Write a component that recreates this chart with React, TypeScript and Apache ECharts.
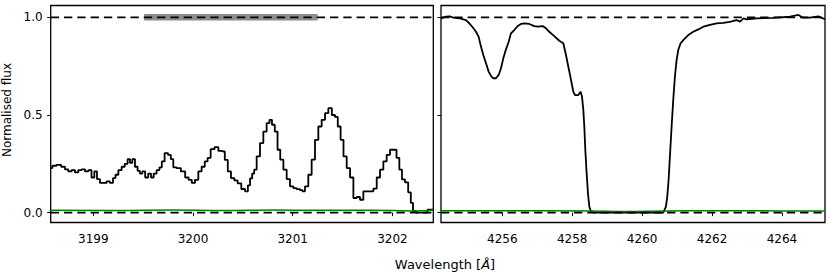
import React, { useEffect, useRef } from 'react';
import * as echarts from 'echarts';

// ---- data ----
const leftWave = [3198.573, 3198.606, 3198.656, 3198.699, 3198.733, 3198.766, 3198.799, 3198.833, 3198.867, 3198.9,
  3198.934, 3198.967, 3198.997, 3199.024, 3199.05, 3199.084, 3199.117, 3199.15, 3199.185, 3199.211,
  3199.235, 3199.268, 3199.301, 3199.331, 3199.358, 3199.378, 3199.405, 3199.431, 3199.458, 3199.478,
  3199.505, 3199.536, 3199.566, 3199.592, 3199.619, 3199.652, 3199.676, 3199.699, 3199.732, 3199.766,
  3199.789, 3199.816, 3199.853, 3199.903, 3199.94, 3199.973, 3200.003, 3200.037, 3200.07, 3200.103,
  3200.133, 3200.16, 3200.194, 3200.238, 3200.271, 3200.304, 3200.334, 3200.364, 3200.398, 3200.431,
  3200.464, 3200.505, 3200.539, 3200.562, 3200.582, 3200.605, 3200.622, 3200.655, 3200.689, 3200.722,
  3200.755, 3200.779, 3200.805, 3200.836, 3200.86, 3200.89, 3200.923, 3200.956, 3200.99, 3201.023,
  3201.056, 3201.09, 3201.106, 3201.14, 3201.173, 3201.207, 3201.24, 3201.274, 3201.307, 3201.341,
  3201.374, 3201.411, 3201.437, 3201.467, 3201.494, 3201.525, 3201.558, 3201.592, 3201.625, 3201.658,
  3201.692, 3201.725, 3201.758, 3201.792, 3201.826, 3201.859, 3201.892, 3201.926, 3201.959, 3201.993,
  3202.026, 3202.056, 3202.083, 3202.109, 3202.143, 3202.173, 3202.196, 3202.217, 3202.26, 3202.327,
  3202.377, 3202.41];
const leftFlux = [0.228, 0.24, 0.245, 0.235, 0.222, 0.211, 0.218, 0.206, 0.218, 0.222,
  0.211, 0.218, 0.18, 0.211, 0.172, 0.152, 0.152, 0.16, 0.152, 0.177,
  0.194, 0.218, 0.235, 0.25, 0.274, 0.255, 0.274, 0.235, 0.214, 0.2,
  0.211, 0.18, 0.2, 0.18, 0.2, 0.218, 0.232, 0.262, 0.305, 0.296,
  0.274, 0.232, 0.228, 0.211, 0.18, 0.168, 0.152, 0.168, 0.211, 0.235,
  0.262, 0.28, 0.325, 0.335, 0.316, 0.313, 0.27, 0.211, 0.177, 0.165,
  0.15, 0.121, 0.109, 0.14, 0.175, 0.2, 0.22, 0.288, 0.356, 0.415,
  0.458, 0.475, 0.45, 0.415, 0.322, 0.271, 0.22, 0.172, 0.134, 0.125,
  0.12, 0.115, 0.109, 0.134, 0.194, 0.271, 0.373, 0.441, 0.475, 0.509,
  0.535, 0.5, 0.49, 0.441, 0.373, 0.288, 0.228, 0.18, 0.075, 0.08,
  0.066, 0.109, 0.109, 0.109, 0.123, 0.18, 0.22, 0.262, 0.296, 0.322,
  0.322, 0.28, 0.22, 0.17, 0.155, 0.104, 0.05, 0.007, 0.0, 0.0,
  0.015, 0.015];

const rightWave = [4254.25, 4254.39, 4254.504, 4254.598, 4254.79, 4254.962, 4255.056, 4255.153, 4255.248, 4255.325,
  4255.39, 4255.457, 4255.534, 4255.61, 4255.677, 4255.743, 4255.82, 4255.897, 4255.963, 4256.029,
  4256.106, 4256.183, 4256.249, 4256.343, 4256.44, 4256.535, 4256.629, 4256.772, 4256.915, 4257.013,
  4257.156, 4257.25, 4257.344, 4257.487, 4257.63, 4257.746, 4257.822, 4257.889, 4257.937, 4257.985,
  4258.032, 4258.08, 4258.175, 4258.24, 4258.28, 4258.318, 4258.347, 4258.375, 4258.413, 4258.451,
  4258.489, 4258.527, 4258.604, 4259.0, 4259.5, 4260.0, 4260.605, 4260.681, 4260.719, 4260.757,
  4260.795, 4260.843, 4260.89, 4260.938, 4260.986, 4261.034, 4261.1, 4261.196, 4261.32, 4261.463,
  4261.606, 4261.75, 4261.94, 4262.13, 4262.32, 4262.51, 4262.7, 4262.8, 4262.9, 4262.99,
  4263.28, 4263.75, 4264.23, 4264.47, 4264.6, 4264.8, 4265.04, 4265.23];
const rightFlux = [0.995, 1.003, 1.005, 0.998, 0.995, 0.986, 0.969, 0.949, 0.926, 0.9,
  0.85, 0.807, 0.765, 0.722, 0.70, 0.688, 0.688, 0.705, 0.739, 0.79,
  0.836, 0.875, 0.918, 0.935, 0.955, 0.966, 0.969, 0.966, 0.955, 0.952,
  0.955, 0.944, 0.926, 0.904, 0.88, 0.867, 0.807, 0.747, 0.705, 0.662,
  0.619, 0.602, 0.602, 0.619, 0.594, 0.526, 0.44, 0.321, 0.202, 0.099,
  0.031, 0.01, 0.0, 0.0, 0.0, 0.0, 0.0, 0.031, 0.082, 0.167,
  0.287, 0.44, 0.577, 0.696, 0.781, 0.833, 0.867, 0.887, 0.909, 0.926,
  0.938, 0.952, 0.961, 0.969, 0.972, 0.977, 0.986, 0.978, 0.995, 0.99,
  0.995, 0.997, 1.003, 1.012, 0.998, 0.998, 1.005, 0.99];

const leftErrWave = [3198.573, 3199.2, 3199.8, 3200.3, 3200.8, 3201.3, 3201.8, 3202.2, 3202.41];
const leftErr = [0.012, 0.011, 0.013, 0.011, 0.013, 0.012, 0.012, 0.009, 0.012];
const rightErrWave = [4254.25, 4256, 4258.5, 4259.5, 4260.7, 4262, 4264, 4265.23];
const rightErr = [0.01, 0.01, 0.009, 0.006, 0.009, 0.01, 0.009, 0.009];

const bandRange = [3199.51, 3201.25];
const refLevels = [0, 1];

const leftRange = [3198.573, 3202.41];
const rightRange = [4254.247, 4265.231];
const yRange = [-0.0505, 1.0605];

const leftTicks = [3199, 3200, 3201, 3202];
const rightTicks = [4256, 4258, 4260, 4262, 4264];
const yTicks = [0, 0.5, 1.0];

const FONT = 'DejaVu Sans';

const zip = (a: number[], b: number[]) => a.map((v, i) => [v, b[i]]);

const App = () => {
  const ref = useRef<HTMLDivElement>(null);
  useEffect(() => {
    const chart = echarts.init(ref.current!, null, { renderer: 'svg' });
    const gridBase = { top: 5.5, height: 217, show: true, borderColor: '#000', borderWidth: 1.3, backgroundColor: 'transparent' };
    const xAxisBase = (gi: number, range: number[], ticks: number[]) => ({
      type: 'value', gridIndex: gi, min: range[0], max: range[1],
      axisLine: { show: false },
      axisTick: { show: true, inside: false, length: 3.5, lineStyle: { color: '#000', width: 1 }, customValues: ticks },
      axisLabel: { customValues: ticks, formatter: (v: number) => String(v), fontSize: 12, color: '#000', fontFamily: FONT, margin: 10 },
      splitLine: { show: false },
    });
    const yAxisBase = (gi: number, labels: boolean) => ({
      type: 'value', gridIndex: gi, min: yRange[0], max: yRange[1],
      axisLine: { show: false },
      axisTick: { show: true, inside: false, length: 3.5, lineStyle: { color: '#000', width: 1 }, customValues: yTicks },
      axisLabel: { show: labels, customValues: yTicks, formatter: (v: number) => v.toFixed(1), fontSize: 12, color: '#000', fontFamily: FONT, margin: 8 },
      splitLine: { show: false },
    });
    const dashed = (gi: number, range: number[], lvl: number) => ({
      type: 'line', xAxisIndex: gi, yAxisIndex: gi, symbol: 'none', silent: true, z: 5,
      data: [[range[0], lvl], [range[1], lvl]],
      lineStyle: { color: '#000', width: 1.7, type: [8.3, 5] },
    });
    const option: any = {
      animation: false,
      backgroundColor: '#fff',
      grid: [
        { ...gridBase, left: 50.7, width: 382.6 },
        { ...gridBase, left: 441, width: 384 },
      ],
      xAxis: [xAxisBase(0, leftRange, leftTicks), xAxisBase(1, rightRange, rightTicks)],
      yAxis: [yAxisBase(0, true), yAxisBase(1, false)],
      series: [
        {
          type: 'line', xAxisIndex: 0, yAxisIndex: 0, symbol: 'none', silent: true, z: 2,
          data: [[bandRange[0], 1], [bandRange[1], 1]],
          lineStyle: { color: '#8c8c8c', width: 6.5 },
        },
        {
          type: 'line', xAxisIndex: 0, yAxisIndex: 0, symbol: 'none', step: 'middle', silent: true, z: 3,
          data: zip(leftWave, leftFlux), lineStyle: { color: '#000', width: 1.8 },
        },
        {
          type: 'line', xAxisIndex: 1, yAxisIndex: 1, symbol: 'none', silent: true, z: 3,
          data: zip(rightWave, rightFlux), lineStyle: { color: '#000', width: 1.8 },
        },
        {
          type: 'line', xAxisIndex: 0, yAxisIndex: 0, symbol: 'none', smooth: true, silent: true, z: 4,
          data: zip(leftErrWave, leftErr), lineStyle: { color: '#008000', width: 1.5 },
        },
        {
          type: 'line', xAxisIndex: 1, yAxisIndex: 1, symbol: 'none', smooth: true, silent: true, z: 4,
          data: zip(rightErrWave, rightErr), lineStyle: { color: '#008000', width: 1.5 },
        },
        ...refLevels.map((l) => dashed(0, leftRange, l)),
        ...refLevels.map((l) => dashed(1, rightRange, l)),
      ],
      graphic: [
        {
          type: 'text', x: 6.5, y: 110, rotation: Math.PI / 2,
          style: { text: 'Normalised flux', fontSize: 12, fontFamily: FONT, fill: '#000', align: 'center', verticalAlign: 'middle' },
        },
        {
          type: 'text', x: 445, y: 264,
          style: {
            text: 'Wavelength [{i|Å}]', fontSize: 13, fontFamily: FONT, fill: '#000', align: 'center', verticalAlign: 'middle',
            rich: { i: { fontStyle: 'italic', fontSize: 13, fontFamily: FONT, fill: '#000' } },
          },
        },
      ],
    };
    chart.setOption(option);
    return () => chart.dispose();
  }, []);
  return <div ref={ref} style={{ position: 'fixed', left: 0, top: 0, width: 831, height: 275, background: '#fff' }} />;
};

export default App;
